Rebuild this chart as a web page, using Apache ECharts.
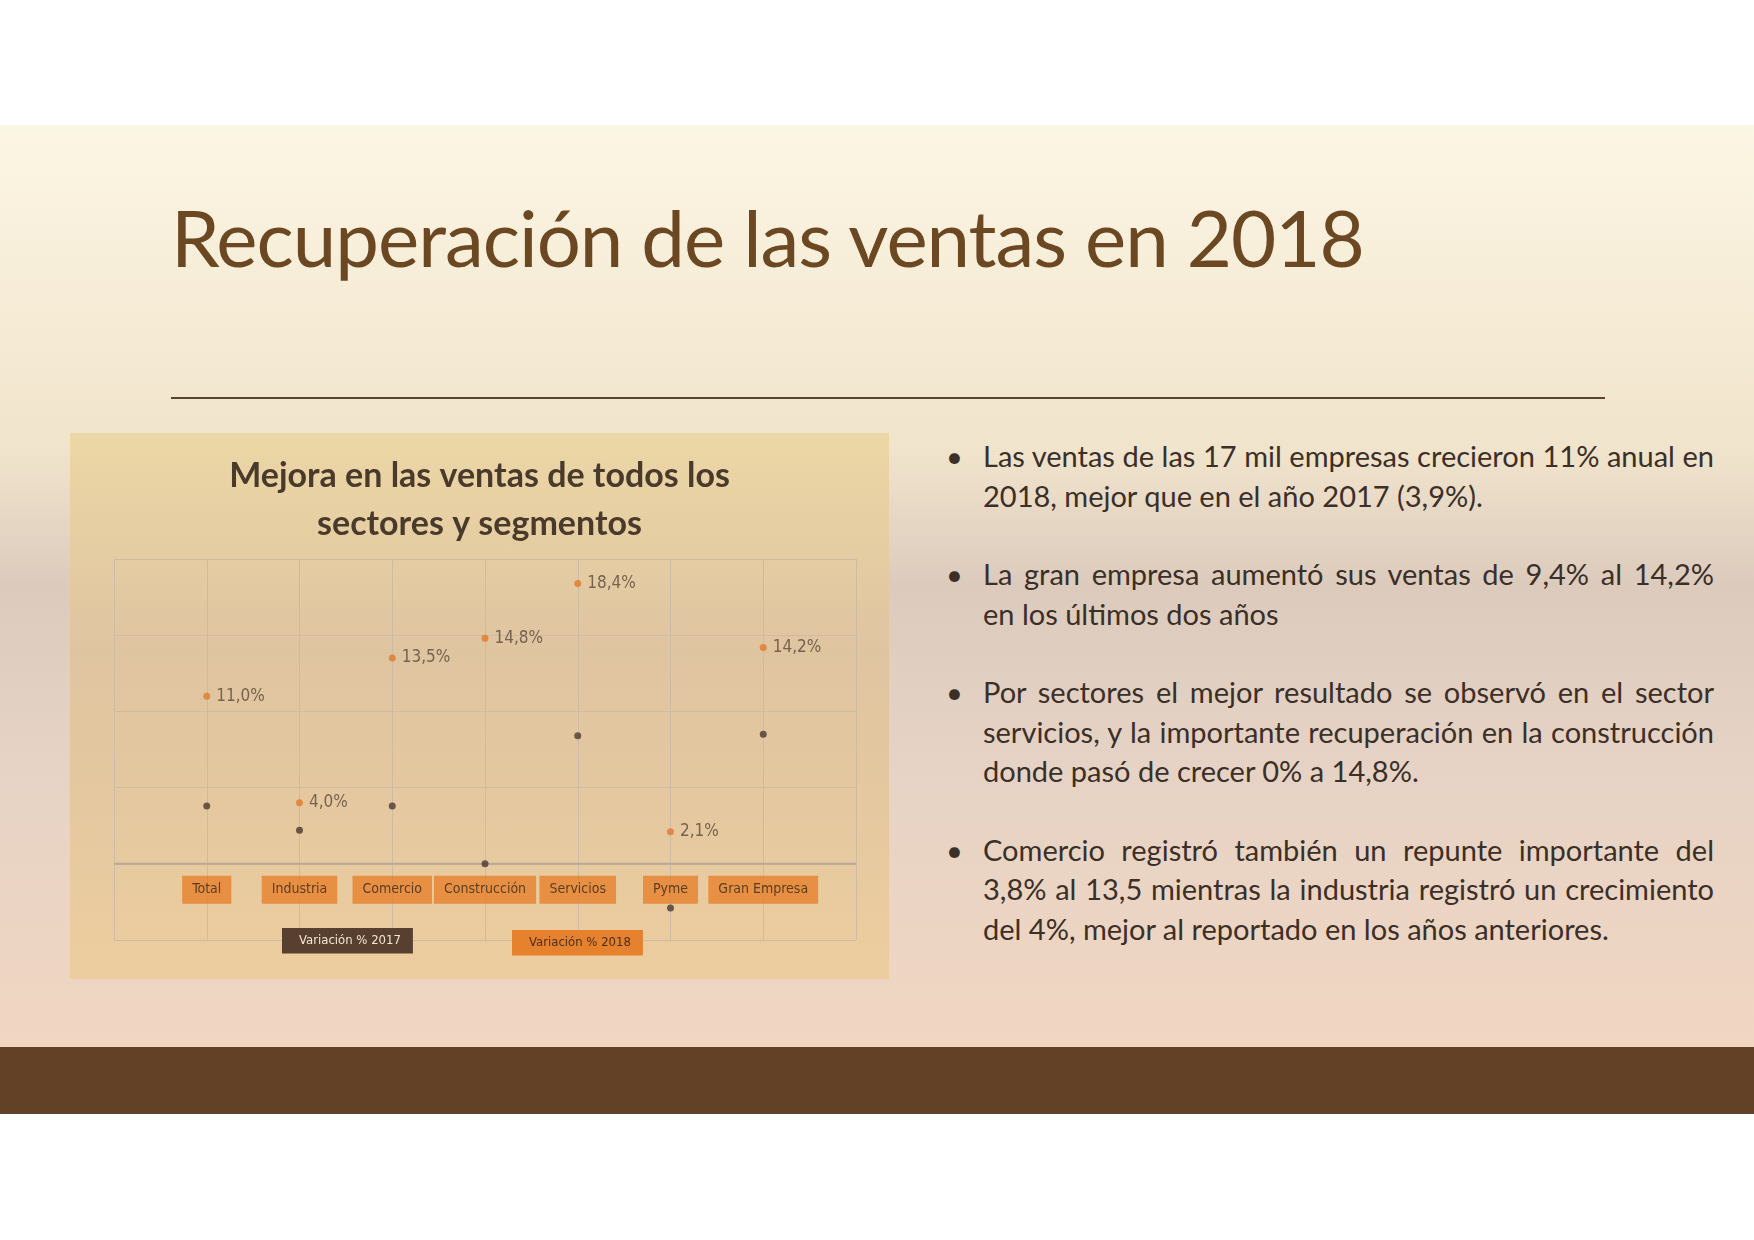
<!doctype html>
<html>
<head>
<meta charset="utf-8">
<script src="https://cdn.jsdelivr.net/npm/echarts@6/dist/echarts.min.js"></script>
<style>
  html, body { margin:0; padding:0; }
  body { width:1754px; height:1240px; position:relative; background:#fff; font-family:Lato, "Open Sans", sans-serif; overflow:hidden; }
  #slide { position:absolute; left:0; top:125px; width:1754px; height:922px;
    background:linear-gradient(to bottom, #fcf6e4 0%, #f1e4cc 35%, #dccbbd 50%, #e6d3c5 70%, #f1d6c2 100%); }
  #band { position:absolute; left:0; top:1047px; width:1754px; height:67px; background:#634127; }
  #title { position:absolute; left:171px; top:190px; font-size:78px; color:#6b4722; letter-spacing:-1px; white-space:nowrap; }
  #rule { position:absolute; left:171px; top:397px; width:1434px; height:2px; background:#5b4530; }
  #panel { position:absolute; left:70px; top:433px; width:819px; height:546px;
    background:linear-gradient(to bottom, #ecd7a6 0%, #dfc4a0 40%, #eccd9f 100%); }
  #chart { width:819px; height:546px; }
  ul { position:absolute; left:946px; top:436px; width:731px; margin:0; padding:0 0 0 37px; list-style:none;
    font-size:29px; line-height:39.5px; color:#3b2f27; text-align:justify; }
  li { position:relative; margin-bottom:39px; }
  li:before { content:"•"; position:absolute; left:-37px; }
</style>
</head>
<body>
<div id="slide"></div>
<div id="band"></div>
<div id="title">Recuperación de las ventas en 2018</div>
<div id="rule"></div>
<div id="panel"><div id="chart"></div></div>
<ul>
  <li>Las ventas de las 17 mil empresas crecieron 11% anual en 2018, mejor que en el año 2017 (3,9%).</li>
  <li>La gran empresa aumentó sus ventas de 9,4% al 14,2% en los últimos dos años</li>
  <li>Por sectores el mejor resultado se observó en el sector servicios, y la importante recuperación en la construcción donde pasó de crecer 0% a 14,8%.</li>
  <li>Comercio registró también un repunte importante del 3,8% al 13,5 mientras la industria registró un crecimiento del 4%, mejor al reportado en los años anteriores.</li>
</ul>
<script>
var categories = ['Total', 'Industria', 'Comercio', 'Construcción', 'Servicios', 'Pyme', 'Gran Empresa'];
var var2017 = [3.8, 2.2, 3.8, 0.0, 8.4, -2.9, 8.5];
var var2018 = [11.0, 4.0, 13.5, 14.8, 18.4, 2.1, 14.2];
var labelY = -1.7;
var narrow = '"DejaVu Sans Condensed", "Liberation Sans", sans-serif';

function pts(arr) { return arr.map(function (v, i) { return [i + 1, v]; }); }

var chart = echarts.init(document.getElementById('chart'));
chart.setOption({
  title: {
    text: 'Mejora en las ventas de todos los\nsectores y segmentos',
    left: 'center', top: 14,
    textStyle: { fontFamily: 'Lato', fontWeight: 'bold', fontSize: 34, lineHeight: 48, color: '#4a3a2b' }
  },
  legend: [
    { data: ['Variación % 2017'], left: 212, top: 495, icon: 'none', itemWidth: 0, itemGap: 0,
      backgroundColor: '#57402f', padding: [6, 12], borderRadius: 0,
      textStyle: { color: '#f3e6d6', fontSize: 13, fontFamily: narrow } },
    { data: ['Variación % 2018'], left: 442, top: 497, icon: 'none', itemWidth: 0, itemGap: 0,
      backgroundColor: '#e6812d', padding: [6, 12], borderRadius: 0,
      textStyle: { color: '#4a2f1a', fontSize: 13, fontFamily: narrow } }
  ],
  grid: { left: 44, right: 33, top: 126, bottom: 39 },
  xAxis: {
    type: 'value', min: 0, max: 8, interval: 1,
    axisLine: { show: false }, axisTick: { show: false }, axisLabel: { show: false },
    splitLine: { lineStyle: { color: '#cdbba6' } }
  },
  yAxis: {
    type: 'value', min: -5, max: 20, interval: 5,
    axisLine: { show: false }, axisTick: { show: false }, axisLabel: { show: false },
    splitLine: { lineStyle: { color: '#cdbba6' } }
  },
  series: [
    { name: 'Variación % 2017', type: 'scatter', data: pts(var2017), symbolSize: 7,
      itemStyle: { color: '#4a3a30' }, z: 3 },
    { name: 'Variación % 2018', type: 'scatter', data: pts(var2018), symbolSize: 7,
      itemStyle: { color: '#e07b2a' }, z: 3,
      label: { show: true, position: 'right', distance: 6, fontSize: 17, color: '#5a4a3a',
        fontFamily: narrow,
        formatter: function (p) { return p.value[1].toFixed(1).replace('.', ',') + '%'; } } },
    { name: 'cats', type: 'scatter', silent: true, symbolSize: 0, z: 4,
      data: categories.map(function (c, i) { return { value: [i + 1, labelY], name: c }; }),
      label: { show: true, position: 'inside', formatter: '{b}', backgroundColor: '#e6812d',
        padding: [7, 10], color: '#3a2817', fontSize: 14, fontFamily: narrow } },
    { type: 'line', data: [[0, 0], [8, 0]], symbol: 'none', silent: true,
      lineStyle: { color: '#b8a896', width: 2 }, z: 1 }
  ]
});
</script>
</body>
</html>
